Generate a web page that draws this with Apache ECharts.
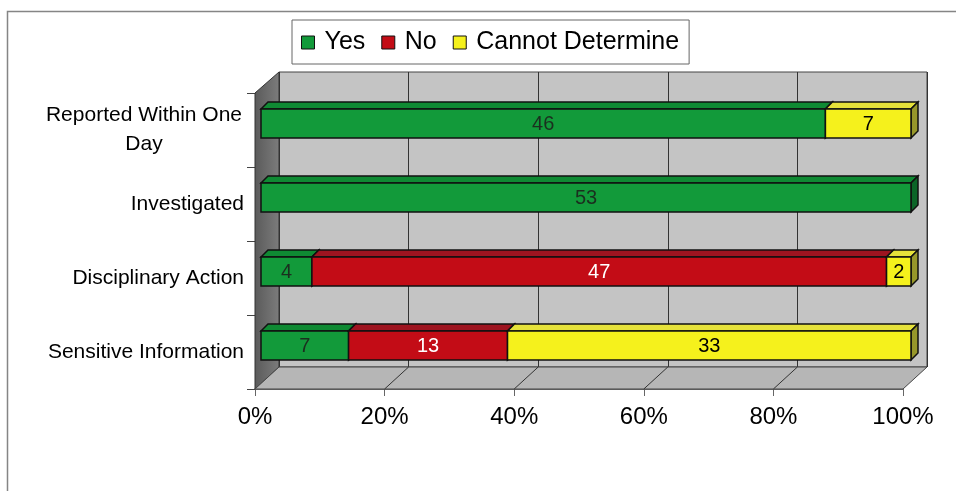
<!DOCTYPE html>
<html>
<head>
<meta charset="utf-8">
<script src="https://cdn.jsdelivr.net/npm/echarts@6/dist/echarts.min.js"></script>
<style>
  html, body { margin: 0; padding: 0; background: #fff; }
  #chart { width: 956px; height: 491px; }
</style>
</head>
<body>
<div id="chart"></div>
<script>
// categories, top to bottom
var categories = ['Reported Within One\nDay', 'Investigated', 'Disciplinary Action', 'Sensitive Information'];
var yesData = [46, 53, 4, 7];
var noData = [0, 0, 47, 13];
var cannotData = [7, 0, 2, 33];
var xTicks = [0, 20, 40, 60, 80, 100];

var seriesNames = ['Yes', 'No', 'Cannot Determine'];
var seriesValues = [yesData, noData, cannotData];

// front, top and side colours of the bars
var faces = [
    { front: '#129a3a', top: '#0f8a33', side: '#0b6527', text: '#1b2f1f' },
    { front: '#c30c16', top: '#9e1420', side: '#6e0b10', text: '#ffffff' },
    { front: '#f5f11c', top: '#e6e23a', side: '#97972a', text: '#000000' }
];

// front plane and back wall of the 3d box
var front = { left: 255, right: 903, top: 93, bottom: 389 };
var back = { left: 279, right: 927, top: 72, bottom: 367 };

// build the stacked (percent) segments for each series
function buildSegments(k) {
    var out = [];
    for (var i = 0; i < categories.length; i++) {
        var total = yesData[i] + noData[i] + cannotData[i];
        var start = 0;
        for (var j = 0; j < k; j++) start += seriesValues[j][i];
        var v = seriesValues[k][i];
        if (v > 0) {
            out.push([start / total * 100, (start + v) / total * 100, i, v]);
        }
    }
    return out;
}

function makeRender(k) {
    return function (params, api) {
        var s = api.value(0), e = api.value(1), c = api.value(2), n = api.value(3);
        var p0 = api.coord([s, c]);
        var p1 = api.coord([e, c]);
        var ox = 6, oy = -6.5, h = 29, d = 7;
        var x0 = p0[0] + ox, x1 = p1[0] + ox + 2;
        if (s > 0) x0 += 2;
        var y0 = p0[1] + oy - h / 2, y1 = y0 + h;
        var f = faces[k];
        var line = { stroke: '#111', lineWidth: 1.5 };
        var kids = [
            { type: 'polygon', shape: { points: [[x0, y0], [x0 + d, y0 - d], [x1 + d, y0 - d], [x1, y0]] },
              style: Object.assign({ fill: f.top }, line) },
            { type: 'polygon', shape: { points: [[x1, y0], [x1 + d, y0 - d], [x1 + d, y1 - d], [x1, y1]] },
              style: Object.assign({ fill: f.side }, line) },
            { type: 'rect', shape: { x: x0, y: y0, width: x1 - x0, height: h },
              style: Object.assign({ fill: f.front }, line) },
            { type: 'text', style: { text: String(n), x: (x0 + x1) / 2, y: (y0 + y1) / 2 + 1,
              align: 'center', verticalAlign: 'middle', fill: f.text,
              font: '20px "Liberation Sans", Arial, sans-serif' } }
        ];
        return { type: 'group', children: kids };
    };
}

var series = [];
for (var k = 0; k < 3; k++) {
    series.push({
        name: seriesNames[k],
        type: 'custom',
        xAxisIndex: 0,
        yAxisIndex: 0,
        z: 5,
        itemStyle: { color: faces[k].front, borderColor: '#111', borderWidth: 1 },
        renderItem: makeRender(k),
        encode: { x: [0, 1], y: 2 },
        data: buildSegments(k)
    });
}

var chart = echarts.init(document.getElementById('chart'));
var option = {
    animation: false,
    textStyle: { fontFamily: '"Liberation Sans", Arial, sans-serif' },
    legend: {
        left: 292,
        top: 20,
        padding: [10, 10, 9, 9],
        backgroundColor: '#fff',
        borderColor: '#666',
        borderWidth: 1,
        itemWidth: 13,
        itemHeight: 13,
        itemGap: 16,
        icon: 'rect',
        itemStyle: { borderColor: '#111', borderWidth: 1 },
        textStyle: { fontSize: 25, color: '#000', padding: [0, 0, 0, 5] },
        data: seriesNames
    },
    grid: [
        { left: front.left, right: 956 - front.right, top: front.top, bottom: 491 - front.bottom },
        { left: back.left, right: 956 - back.right, top: back.top, bottom: 491 - back.bottom,
          show: true, backgroundColor: '#c4c4c4', borderColor: '#444', borderWidth: 1, z: 0 }
    ],
    xAxis: [
        {
            gridIndex: 0, type: 'value', min: 0, max: 100, interval: 20,
            axisLine: { show: true, lineStyle: { color: '#444', width: 1.5 } },
            axisTick: { show: true, length: 7, lineStyle: { color: '#666' } },
            splitLine: { show: false },
            axisLabel: { margin: 16, fontSize: 24, color: '#000', formatter: '{value}%' }
        },
        {
            gridIndex: 1, type: 'value', min: 0, max: 100, interval: 20,
            axisLine: { show: false }, axisTick: { show: false }, axisLabel: { show: false },
            splitLine: { show: true, lineStyle: { color: '#333', width: 1 } }
        }
    ],
    yAxis: [
        {
            gridIndex: 0, type: 'category', inverse: true, data: categories,
            axisLine: { show: false },
            axisTick: { show: true, length: 8, lineStyle: { color: '#444' } },
            axisLabel: {
                margin: 11, fontSize: 21, color: '#000',
                formatter: function (v) {
                    if (v.indexOf('\n') >= 0) {
                        return v.split('\n').map(function (s) { return '{c|' + s + '}'; }).join('\n');
                    }
                    return v;
                },
                rich: { c: { fontSize: 21, width: 200, align: 'center', lineHeight: 29, color: '#000' } }
            }
        },
        { gridIndex: 1, type: 'value', show: false }
    ],
    series: series
};
chart.setOption(option);

// walls and floor of the 3d box, placed from the axes
var gfx = [];
gfx.push({
    type: 'rect', z: 0, silent: true,
    shape: { x: 7.5, y: 11.5, width: 1000, height: 500 },
    style: { fill: 'none', stroke: '#858585', lineWidth: 1.5 }
});
gfx.push({
    type: 'polygon', z: 1, silent: true,
    shape: { points: [[front.left, front.top], [back.left, back.top], [back.left, back.bottom], [front.left, front.bottom]] },
    style: {
        fill: new echarts.graphic.LinearGradient(0, 0, 1, 0, [
            { offset: 0, color: '#5a5a5a' }, { offset: 1, color: '#7c7c7c' }
        ]),
        stroke: '#333', lineWidth: 1
    }
});
gfx.push({
    type: 'polygon', z: 1, silent: true,
    shape: { points: [[front.left, front.bottom], [back.left, back.bottom], [back.right, back.bottom], [front.right, front.bottom]] },
    style: { fill: '#b6b6b6', stroke: '#444', lineWidth: 1 }
});
for (var t = 1; t < xTicks.length - 1; t++) {
    var fx = chart.convertToPixel({ xAxisIndex: 0 }, xTicks[t]);
    var bx = chart.convertToPixel({ xAxisIndex: 1 }, xTicks[t]);
    gfx.push({
        type: 'line', z: 1, silent: true,
        shape: { x1: fx, y1: front.bottom, x2: bx, y2: back.bottom },
        style: { stroke: '#333', lineWidth: 1 }
    });
}
chart.setOption({ graphic: gfx });
</script>
</body>
</html>
